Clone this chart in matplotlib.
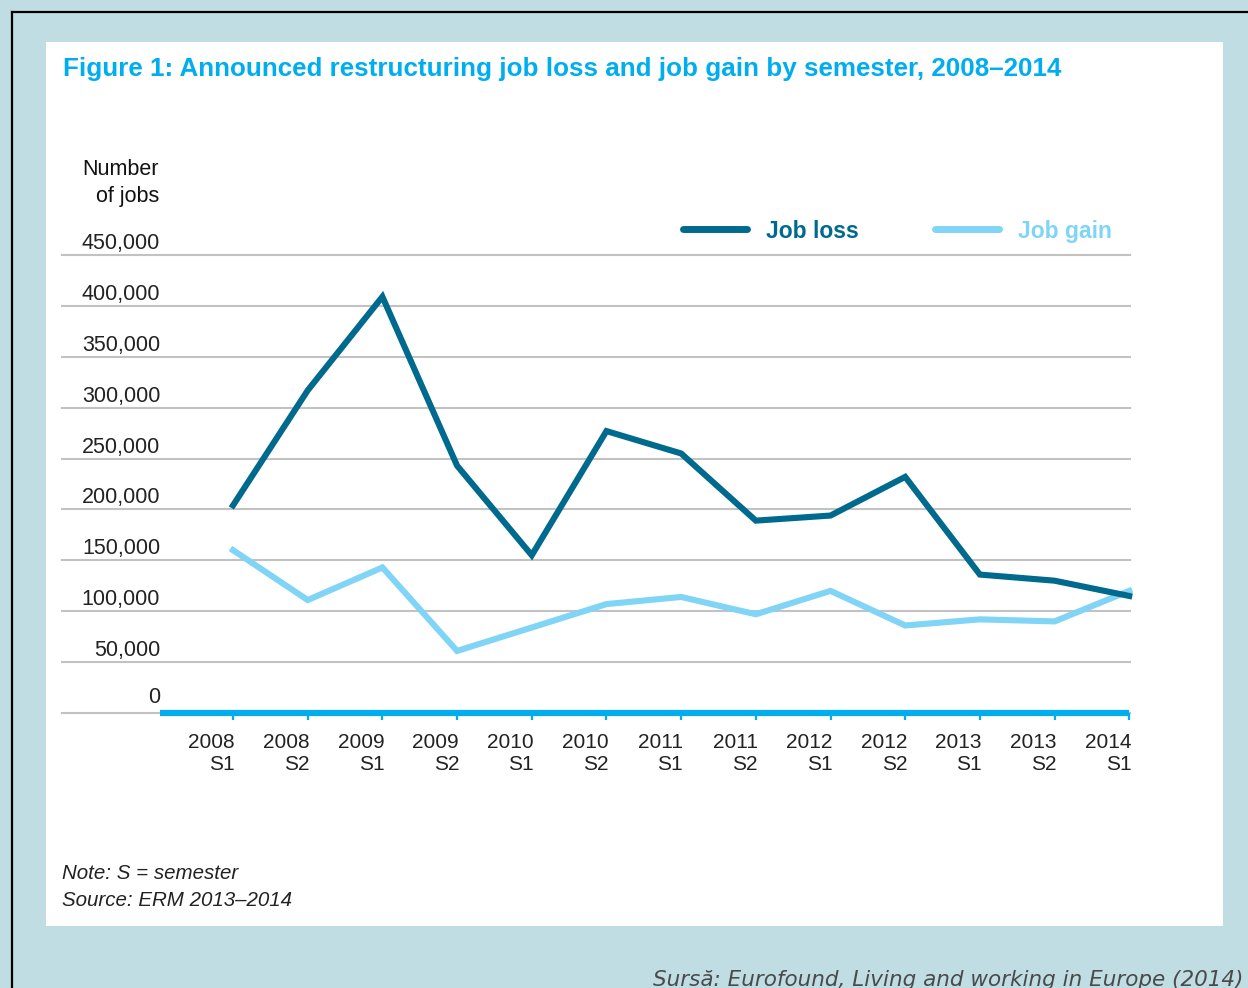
import matplotlib
matplotlib.use('Agg')
from matplotlib import pyplot as plt
from matplotlib.lines import Line2D
from matplotlib.patches import Rectangle
import matplotlib.transforms as mtransforms

W, H = 1248, 988

semesters = ['2008\nS1', '2008\nS2', '2009\nS1', '2009\nS2', '2010\nS1',
             '2010\nS2', '2011\nS1', '2011\nS2', '2012\nS1', '2012\nS2',
             '2013\nS1', '2013\nS2', '2014\nS1']
job_loss = [204000, 317000, 409000, 243000, 155000, 277000, 255000,
            189000, 194000, 232000, 136000, 130000, 115000]
job_gain = [160000, 111000, 143000, 61000, 84000, 107000, 114000,
            97000, 120000, 86000, 92000, 90000, 120000]
y_ticks = [0, 50000, 100000, 150000, 200000, 250000, 300000, 350000,
           400000, 450000]

BG = '#c0dde4'
TITLE_BLUE = '#00aeef'
LOSS_COLOR = '#006a8e'
GAIN_COLOR = '#80d4f6'

plt.rcParams['font.family'] = ['Liberation Sans', 'DejaVu Sans']


def fx(px):
    return px / W


def fy(py):
    return 1 - py / H


def build_background(fig):
    # white panel on the light blue page
    fig.add_artist(Rectangle((fx(46), fy(926)), fx(1223) - fx(46),
                             fy(42) - fy(926), facecolor='white',
                             edgecolor='none', zorder=0))
    # black frame on the left and top
    fig.add_artist(Line2D([fx(12), fx(12)], [fy(12), 0], color='black',
                          lw=1.6))
    fig.add_artist(Line2D([fx(12), 1], [fy(12), fy(12)], color='black',
                          lw=1.6))


def build_axes(fig):
    ax = fig.add_axes([fx(62), fy(713), fx(1130) - fx(62),
                       fy(255) - fy(713)])
    ax.patch.set_visible(False)
    for s in ax.spines.values():
        s.set_visible(False)
    ax.set_xticks([])
    ax.set_yticks([])
    ax.set_ylim(0, 450000)
    ax.set_xlim(-2.29, 12.01)
    return ax


def format_axes(fig, ax, x):
    for v in y_ticks:
        ax.axhline(v, color='#c2c2c2', lw=1.5, zorder=1, clip_on=False)
        off = 10 if v == 0 else 6
        trans = mtransforms.offset_copy(ax.transData, fig=fig, x=0,
                                        y=off, units='dots')
        ax.text(-0.975, v, f'{v:,}', ha='right', va='baseline',
                fontsize=15.5, color='#222222', transform=trans)

    # cyan category axis with small ticks
    ax.hlines(0, -0.98, x[-1], color='#00aeef', lw=4.5, zorder=3,
              clip_on=False)
    ax.vlines(x, -6500, 0, color='#00aeef', lw=1.6, zorder=3,
              clip_on=False)
    trans = mtransforms.offset_copy(ax.transData, fig=fig, x=2, y=-20,
                                    units='dots')
    for xi, lab in zip(x, semesters):
        ax.text(xi, 0, lab, ha='right', va='top', multialignment='right',
                fontsize=15, color='#222222', linespacing=1.2,
                transform=trans)


def add_legend(fig):
    entries = [('Job loss', LOSS_COLOR, 683, 747, 766),
               ('Job gain', GAIN_COLOR, 935, 999, 1018)]
    for label, color, x0, x1, xt in entries:
        fig.add_artist(Line2D([fx(x0), fx(x1)], [fy(229), fy(229)],
                              color=color, lw=5,
                              solid_capstyle='round'))
        fig.text(fx(xt), fy(231), label, ha='left', va='center',
                 fontsize=16.5, fontweight='bold', color=color)


def plot_jobs():
    fig = plt.figure(figsize=(W / 100, H / 100), dpi=100, facecolor=BG)
    build_background(fig)

    fig.text(fx(63), fy(69),
             'Figure 1: Announced restructuring job loss and job gain by '
             'semester, 2008\u20132014',
             ha='left', va='center', fontsize=18.7, fontweight='bold',
             color=TITLE_BLUE)
    fig.text(fx(159), fy(183), 'Number\nof jobs', ha='right', va='center',
             multialignment='right', fontsize=15.5, color='#111111',
             linespacing=1.35)

    ax = build_axes(fig)
    x = list(range(len(semesters)))
    format_axes(fig, ax, x)

    ax.plot(x, job_gain, color=GAIN_COLOR, lw=4.4, zorder=4,
            solid_joinstyle='miter', clip_on=False)
    ax.plot(x, job_loss, color=LOSS_COLOR, lw=4.4, zorder=5,
            solid_joinstyle='miter', clip_on=False)

    add_legend(fig)

    fig.text(fx(62), fy(873), 'Note: S = semester', ha='left',
             va='center', fontsize=14.8, style='italic', color='#222222')
    fig.text(fx(62), fy(900), 'Source: ERM 2013\u20132014', ha='left',
             va='center', fontsize=14.8, style='italic', color='#222222')
    fig.text(fx(1243), fy(980),
             'Surs\u0103: Eurofound, Living and working in Europe (2014)',
             ha='right', va='center', fontsize=15.5, style='italic',
             family='DejaVu Sans', color='#4a4a4a')

    print('saving figure to out.png')
    fig.savefig('out.png', dpi=100, facecolor=BG)


if __name__ == '__main__':
    plot_jobs()
